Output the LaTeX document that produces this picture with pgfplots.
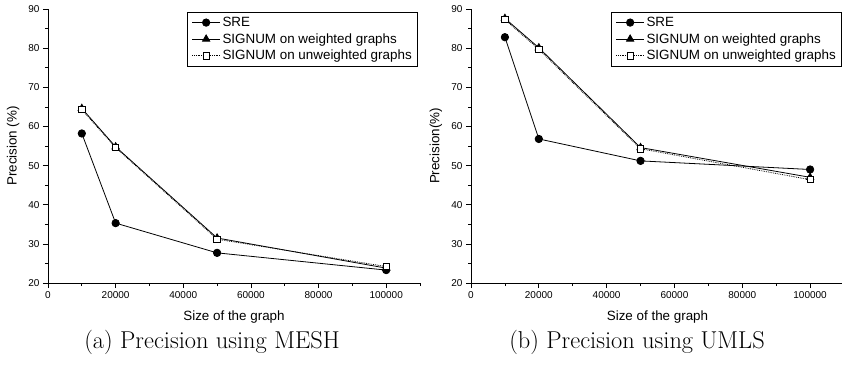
\documentclass[border=0pt]{standalone}
\usepackage{fontspec}
\setsansfont{Liberation Sans}
\usepackage{pgfplots}
\pgfplotsset{compat=1.18}
\pgfplotsset{
 myax/.style={
  scale only axis, height=274pt,
  xmin=0, xmax=110000, ymin=20, ymax=90,
  axis x line*=bottom, axis y line*=left,
  xtick={0,20000,40000,60000,80000,100000},
  minor xtick={10000,30000,50000,70000,90000,110000},
  ytick={20,30,...,90}, minor ytick={25,35,...,85},
  tick align=outside, major tick length=5pt, minor tick length=3pt,
  tick style={black, line width=0.7pt},
  axis line style={line width=0.8pt},
  scaled x ticks=false,
  /pgf/number format/fixed,
  /pgf/number format/precision=0,
  /pgf/number format/1000 sep={},
  /pgf/number format/assume math mode=true,
  tick label style={font=\sffamily\fontsize{10}{12}\selectfont},
  label style={font=\sffamily\fontsize{13.4}{16}\selectfont},
  xlabel style={at={(axis description cs:0.5,-0.124)}, anchor=center},
  ylabel style={at={(axis description cs:-0.094,0.5)}, anchor=center},
  legend style={font=\sffamily\fontsize{13.4}{15}\selectfont, at={(0.995,0.99)}, anchor=north east,
     draw=black, line width=0.8pt, row sep=1.5pt, inner xsep=4pt, inner ysep=3pt},
  legend cell align=left,
  legend image code/.code={\draw[mark repeat=2,mark phase=2,##1] plot coordinates {(0pt,0pt) (14pt,0pt) (28pt,0pt)};},
 },
 sre/.style={black, line width=0.8pt, mark=*, mark size=3.7pt, mark options={solid, fill=black}},
 wgt/.style={black, line width=0.8pt, mark=triangle*, mark size=4.2pt, mark options={solid, fill=black}},
 unw/.style={black, line width=0.8pt, densely dotted, mark=square*, mark size=3.2pt, mark options={solid, fill=white, line width=0.8pt}},
}
\begin{document}
\begin{tikzpicture}[x=1pt,y=1pt]
\useasboundingbox (0,0) rectangle (842,365);
\begin{axis}[myax, width=372pt, at={(48pt,82pt)}, anchor=south west,
  xlabel={Size of the graph}, ylabel={Precision (\%)}]
\addplot[sre] coordinates {(10000,58.2) (20000,35.3) (50000,27.7) (100000,23.3)};
\addlegendentry{SRE}
\addplot[wgt] coordinates {(10000,64.6) (20000,54.8) (50000,31.5) (100000,23.8)};
\addlegendentry{SIGNUM on weighted graphs}
\addplot[unw] coordinates {(10000,64.3) (20000,54.6) (50000,31.2) (100000,24.2)};
\addlegendentry{SIGNUM on unweighted graphs}
\end{axis}
\begin{axis}[myax, width=373pt, at={(471pt,82pt)}, anchor=south west,
  xlabel={Size of the graph}, ylabel={Precision(\%)}]
\addplot[sre] coordinates {(10000,82.8) (20000,56.8) (50000,51.2) (100000,49.0)};
\addlegendentry{SRE}
\addplot[wgt] coordinates {(10000,87.6) (20000,80.1) (50000,54.6) (100000,47.0)};
\addlegendentry{SIGNUM on weighted graphs}
\addplot[unw] coordinates {(10000,87.3) (20000,79.7) (50000,54.3) (100000,46.4)};
\addlegendentry{SIGNUM on unweighted graphs}
\end{axis}
\node[anchor=base, font=\fontsize{24.4}{29}\selectfont] at (212,17) {(a) Precision using MESH};
\node[anchor=base, font=\fontsize{24.4}{29}\selectfont] at (637,17) {(b) Precision using UMLS};
\end{tikzpicture}
\end{document}
